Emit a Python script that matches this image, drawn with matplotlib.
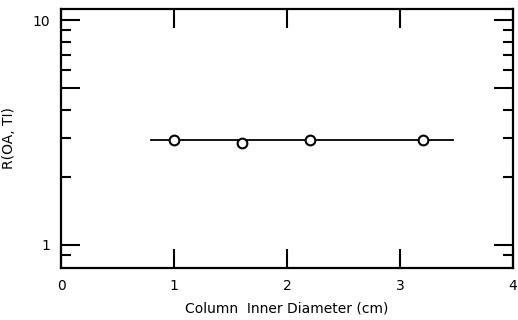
import numpy as np
import matplotlib
matplotlib.use('Agg')
import matplotlib.pyplot as plt
from matplotlib.ticker import NullFormatter, FixedLocator

# data
diam = [1.0, 1.6, 2.2, 3.2]
ratio = [2.93, 2.85, 2.94, 2.93]
fit_x = [0.8, 3.47]
fit_y = [2.92, 2.92]

x_ticks = [0, 1, 2, 3, 4]
y_major = [1, 10]
y_minor = [0.9, 2, 3, 4, 6, 7, 8, 9]
y_mid = [5]

plt.rcParams['font.family'] = 'DejaVu Sans'

fig = plt.figure(figsize=(5.18, 3.2), dpi=100)
ax = fig.add_axes([61 / 518, 52 / 320, 452 / 518, 259 / 320])

ax.plot(fit_x, fit_y, color='black', lw=1.3, zorder=2)
ax.plot(diam, ratio, 'o', ms=7, mfc='white', mec='black', mew=1.5, zorder=3)

ax.set_yscale('log')
ax.set_xlim(0, 4)
ax.set_ylim(0.79, 11.2)

ax.xaxis.set_major_locator(FixedLocator(x_ticks))
ax.yaxis.set_major_locator(FixedLocator(y_major + y_mid))
ax.yaxis.set_minor_locator(FixedLocator(y_minor))
ax.set_yticklabels(['1', '10', ''])
ax.yaxis.set_minor_formatter(NullFormatter())

ax.tick_params(which='major', direction='in', length=14, width=1.5,
               top=True, right=True, labelsize=10, pad=8)
ax.tick_params(which='minor', direction='in', length=7, width=1.5,
               right=True, left=True)

for s in ax.spines.values():
    s.set_linewidth(1.6)

ax.set_xlabel('Column  Inner Diameter (cm)', fontsize=10, labelpad=6)
ax.set_ylabel('R(OA, TI)', fontsize=10)
ax.yaxis.set_label_coords(-0.099, 0.5)

fig.savefig('out.png', dpi=100)
